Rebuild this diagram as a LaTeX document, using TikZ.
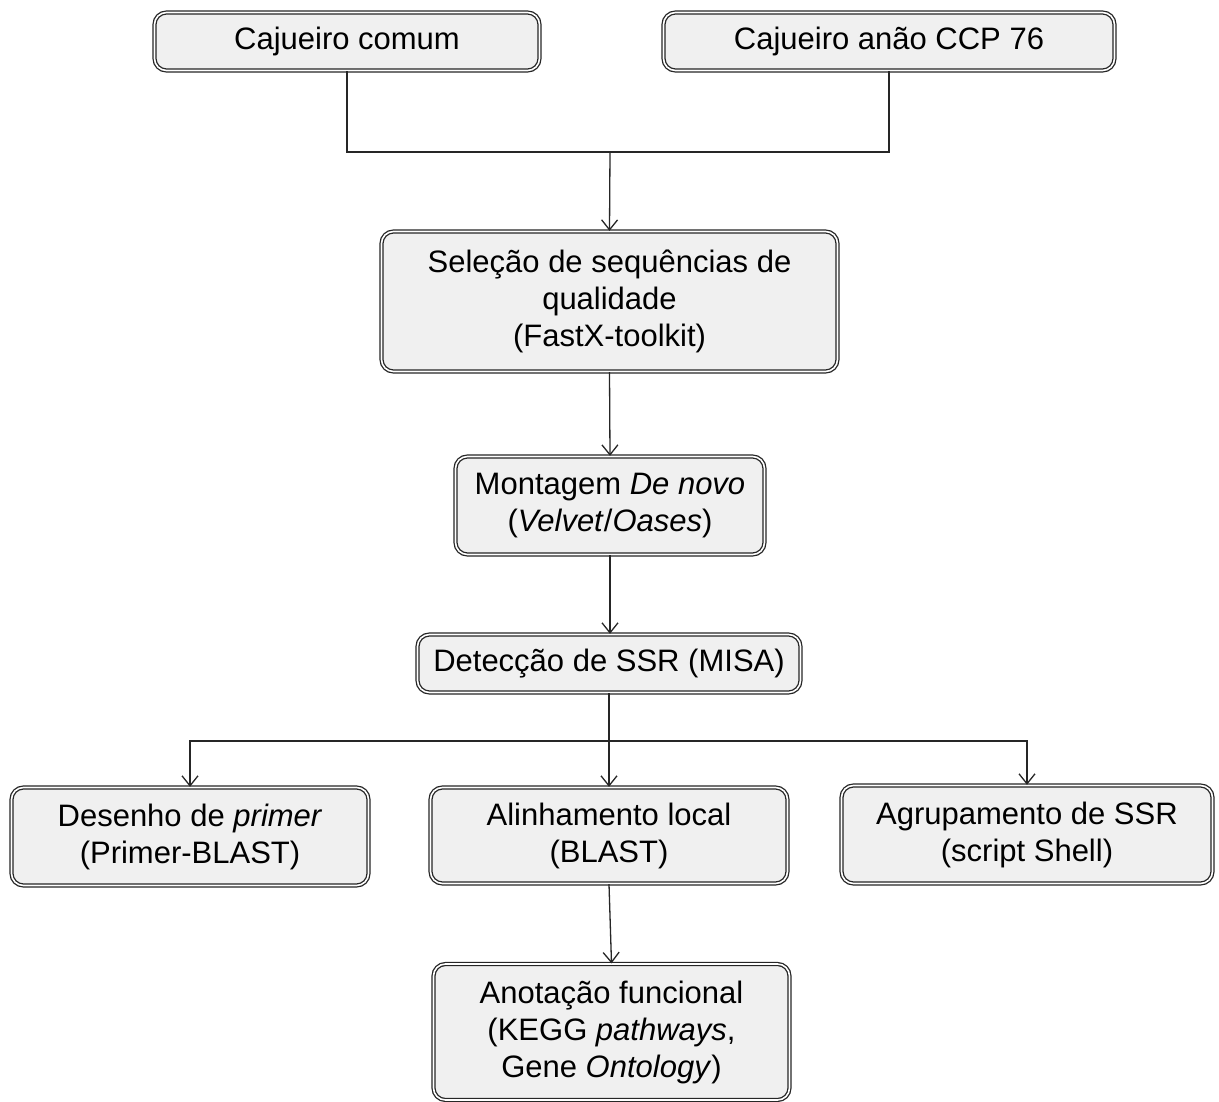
\documentclass[tikz,border=0pt]{standalone}
\usepackage{fontspec}
\setmainfont{Liberation Sans}
\usetikzlibrary{arrows.meta}
\begin{document}
\begin{tikzpicture}[x=1pt,y=-1pt,
  box/.style={draw=black!85, double=white, double distance=1.6pt, line width=1.3pt,
    fill=black!6, rounded corners=12pt, align=center, inner sep=0pt,
    font=\fontsize{31}{37}\selectfont},
  conn/.style={line width=1.3pt, draw=black!85},
  arr/.style={conn, -{Straight Barb[length=10pt,width=16pt,line width=1.3pt]}}]
\useasboundingbox (0,0) rectangle (1219,1102);
\node[box, minimum width=385pt, minimum height=58pt] (cc) at (347,41.5) {Cajueiro comum};
\node[box, minimum width=451pt, minimum height=58pt] (ca) at (889,41.5) {Cajueiro anão CCP 76};
\node[box, minimum width=456pt, minimum height=140pt] (sel) at (609.5,301.5) {Seleção de sequências de\\qualidade\\(FastX-toolkit)};
\node[box, minimum width=309pt, minimum height=98pt] (mon) at (610,505.5) {Montagem \textit{De novo}\\(\textit{Velvet}/\textit{Oases})};
\node[box, minimum width=383pt, minimum height=58pt] (det) at (609,663.5) {Detecção de SSR (MISA)};
\node[box, minimum width=357pt, minimum height=98pt] (des) at (190,836.5) {Desenho de \textit{primer}\\(Primer-BLAST)};
\node[box, minimum width=357pt, minimum height=96pt] (ali) at (609,835.5) {Alinhamento local\\(BLAST)};
\node[box, minimum width=371pt, minimum height=98pt] (agr) at (1027,834.5) {Agrupamento de SSR\\(script Shell)};
\node[box, minimum width=356pt, minimum height=136pt] (ano) at (611.5,1032) {Anotação funcional\\(KEGG \textit{pathways},\\Gene \textit{Ontology})};
\coordinate (j1) at (610,152);
\coordinate (j2) at (609,741);
\draw[conn] (cc.south) |- (j1) -| (ca.south);
\draw[arr] (j1) -- (sel.north);
\draw[arr] (sel.south) -- (mon.north);
\draw[arr] (mon.south) -- (mon.south |- det.north);
\draw[arr] (det.south) -- (ali.north);
\draw[arr] (j2) -| (des.north);
\draw[arr] (j2) -| (agr.north);
\draw[arr] (ali.south) -- (ano.north);
\end{tikzpicture}
\end{document}
